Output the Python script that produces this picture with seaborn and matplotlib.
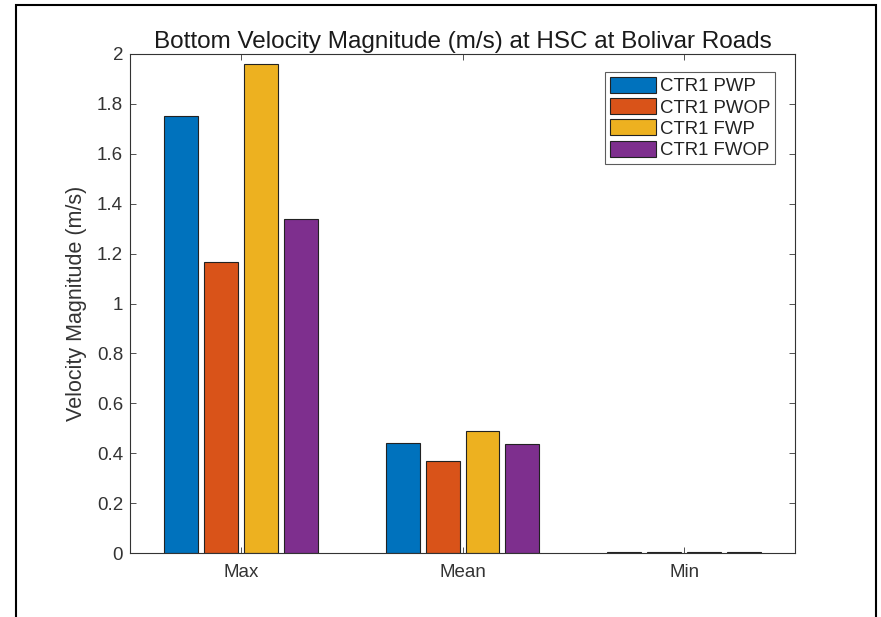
import matplotlib
matplotlib.use("Agg")
import matplotlib.pyplot as plt
import seaborn as sns
import pandas as pd
from matplotlib.patches import Rectangle

categories = ["Max", "Mean", "Min"]
series_names = ["CTR1 PWP", "CTR1 PWOP", "CTR1 FWP", "CTR1 FWOP"]
pwp = [1.75, 0.44, 0.004]
pwop = [1.166, 0.37, 0.003]
fwp = [1.96, 0.49, 0.005]
fwop = [1.34, 0.437, 0.004]
colors = ["#0072BD", "#D95319", "#EDB120", "#7E2F8E"]
yticks = [0, 0.2, 0.4, 0.6, 0.8, 1, 1.2, 1.4, 1.6, 1.8, 2]
ytick_labels = ["0", "0.2", "0.4", "0.6", "0.8", "1", "1.2", "1.4", "1.6", "1.8", "2"]

rows = []
for name, vals in zip(series_names, [pwp, pwop, fwp, fwop]):
    for c, v in zip(categories, vals):
        rows.append({"Statistic": c, "Series": name, "Value": v})
df = pd.DataFrame(rows)

sns.set_theme(style="white")
plt.rcParams["font.family"] = ["Liberation Sans", "DejaVu Sans"]

fig = plt.figure(figsize=(8.81, 6.17), dpi=100)
ax = fig.add_axes([0.1476, 0.1037, 0.7548, 0.8088])

sns.barplot(data=df, x="Statistic", y="Value", hue="Series", order=categories,
            hue_order=series_names, palette=colors, width=0.72, gap=0.15,
            edgecolor="#222222", linewidth=0.8, saturation=1, errorbar=None, ax=ax)

ax.set_xlim(-0.5, 2.5)
ax.set_ylim(0, 2)
ax.set_yticks(yticks)
ax.set_yticklabels(ytick_labels)
ax.set_xlabel("")
ax.set_ylabel("Velocity Magnitude (m/s)", fontsize=15.5, color="#333333", labelpad=7)
ax.set_title("Bottom Velocity Magnitude (m/s) at HSC at Bolivar Roads", fontsize=17.5,
             color="#1a1a1a", pad=4)

for s in ax.spines.values():
    s.set_visible(True)
    s.set_color("#333333")
    s.set_linewidth(0.8)
ax.tick_params(axis="both", direction="in", length=4, width=0.6, colors="#333333",
               labelsize=13.5, top=True, right=True, bottom=True, left=True)
ax.tick_params(axis="x", pad=8)
ax.tick_params(axis="y", pad=5)

leg = ax.legend(loc="upper right", bbox_to_anchor=(0.970, 0.964), borderaxespad=0,
                frameon=True, fontsize=13.4, handlelength=2.47, handleheight=0.95,
                handletextpad=0.2, labelspacing=0.15, borderpad=0.27, fancybox=False)
leg.get_frame().set_edgecolor("#333333")
leg.get_frame().set_linewidth(0.8)
for t in leg.get_texts():
    t.set_color("#222222")

fig.patches.append(Rectangle((16/881, -0.05), (876-16)/881, 1 - 5/617 + 0.05,
                             transform=fig.transFigure, fill=False,
                             edgecolor="black", linewidth=1.5))

fig.savefig("out.png", dpi=100)
